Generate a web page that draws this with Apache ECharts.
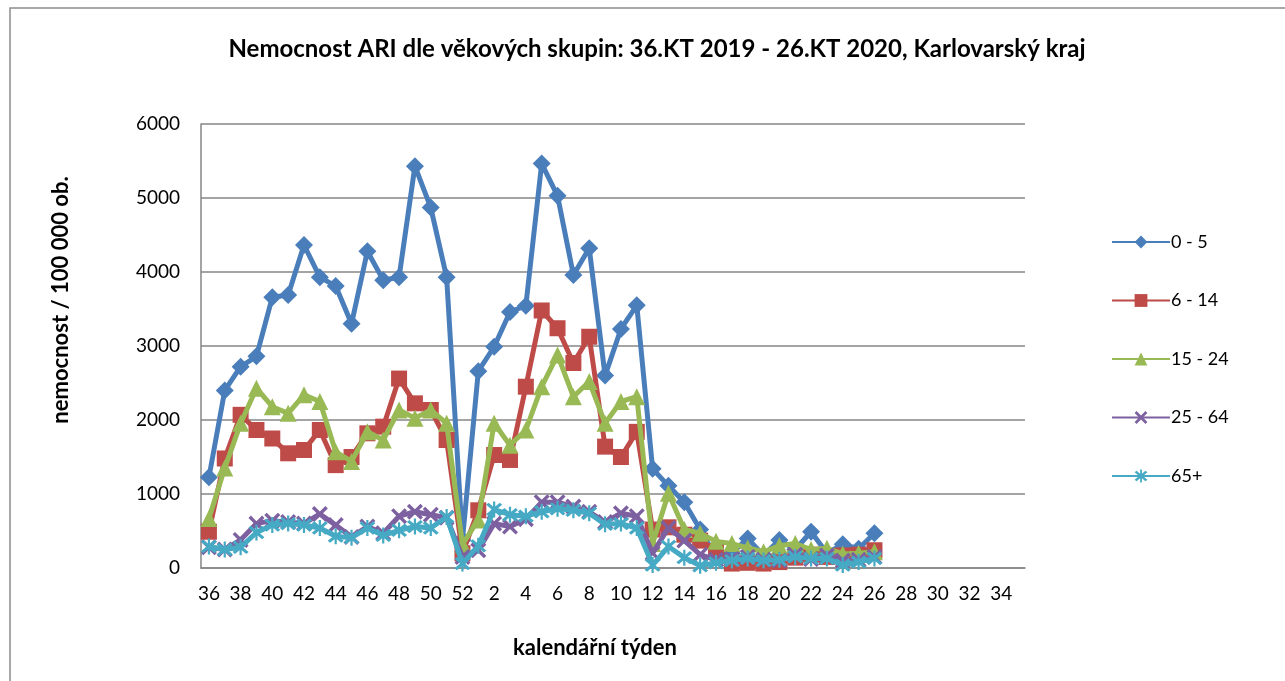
<!DOCTYPE html>
<html><head><meta charset="utf-8">
<script src="https://cdn.jsdelivr.net/npm/echarts@6/dist/echarts.min.js"></script>
<style>html,body{margin:0;padding:0;background:#fff}#c{width:1285px;height:681px}</style>
</head><body><div id="c"></div>
<script>
const weeks = [36,37,38,39,40,41,42,43,44,45,46,47,48,49,50,51,52,1,2,3,4,5,6,7,8,9,10,11,12,13,14,15,16,17,18,19,20,21,22,23,24,25,26,27,28,29,30,31,32,33,34,35];
const seriesNames = ['0 - 5','6 - 14','15 - 24','25 - 64','65+'];
const age0_5 = [1225,2400,2720,2860,3660,3690,4365,3930,3810,3300,4280,3890,3930,5430,4870,3930,380,
  2660,2990,3460,3545,5465,5030,3960,4320,2600,3230,3550,1340,1110,890,520,150,200,400,170,380,250,490,200,320,260,470];
const age6_14 = [490,1480,2070,1865,1750,1550,1595,1865,1390,1500,1820,1910,2560,2225,2135,1730,200,
  780,1527,1460,2450,3480,3240,2770,3125,1640,1500,1840,520,550,450,370,230,60,70,60,80,140,180,150,170,180,240];
const age15_24 = [670,1350,1955,2430,2180,2090,2340,2250,1570,1440,1840,1730,2135,2025,2135,1955,320,
  650,1955,1660,1865,2450,2880,2315,2520,1955,2250,2315,330,1010,520,470,360,330,270,220,300,330,250,266,190,200,220];
const age25_64 = [280,250,380,600,640,620,600,730,580,420,560,470,700,760,720,680,150,
  240,600,560,660,890,890,830,760,620,740,700,200,540,370,180,110,120,150,110,100,180,120,170,100,110,150];
const age65 = [290,250,280,480,580,600,580,540,430,410,540,440,510,560,540,690,60,
  300,790,720,700,760,800,780,740,590,600,540,40,290,140,30,70,100,130,100,110,150,130,130,40,80,130];
const yTicks = [0,1000,2000,3000,4000,5000,6000];

const colors = ['#4A7EBB','#BE4B48','#98B954','#7D60A0','#46AAC5'];
const xSym = 'path://M0,1.5 L1.5,0 L5,3.5 L8.5,0 L10,1.5 L6.5,5 L10,8.5 L8.5,10 L5,6.5 L1.5,10 L0,8.5 L3.5,5 Z';
const starSym = 'path://M0,1.5 L1.5,0 L5,3.5 L8.5,0 L10,1.5 L6.5,5 L10,8.5 L8.5,10 L5,6.5 L1.5,10 L0,8.5 L3.5,5 Z M4.3,-1 L5.7,-1 L5.7,11 L4.3,11 Z';
const symbols = ['diamond','rect','triangle',xSym,starSym];
const symSizes = [18,16,17,16,16];
const dataSets = [age0_5,age6_14,age15_24,age25_64,age65];

const font = 'Lato, "Open Sans", sans-serif';
const chart = echarts.init(document.getElementById('c'));
chart.setOption({
  animation:false,
  backgroundColor:'#fff',
  color: colors,
  title:{
    text:'Nemocnost ARI dle věkových skupin: 36.KT 2019 - 26.KT 2020, Karlovarský kraj',
    left: 652, top: 32, textAlign:'center',
    textStyle:{fontFamily:font,fontSize:24,fontWeight:'bold',color:'#000'}
  },
  graphic:[
    {type:'rect',shape:{x:10,y:8,width:1300,height:700},style:{fill:'none',stroke:'#8c8c8c',lineWidth:1.5},silent:true},
    {type:'text',x:61,y:300,rotation:Math.PI/2,style:{text:'nemocnost / 100 000 ob.',x:0,y:0,font:'bold 22px '+font,fill:'#000',textAlign:'center',textVerticalAlign:'middle'}},
    {type:'text',x:595,y:648,style:{text:'kalendářní týden',x:0,y:0,font:'bold 22px '+font,fill:'#000',textAlign:'center',textVerticalAlign:'middle'}}
  ],
  legend:{
    orient:'vertical', left:1106, top:228,
    itemWidth:58, itemHeight:16, itemGap:40.5,
    data: seriesNames,
    textStyle:{fontFamily:font,fontSize:18,color:'#000',padding:[0,0,0,-4]}
  },
  grid:{left:201,right:260,top:124,bottom:113},
  xAxis:{
    type:'category', data: weeks, boundaryGap:true,
    axisLine:{lineStyle:{color:'#868686',width:1.5}},
    axisTick:{show:false},
    axisLabel:{interval:1,fontFamily:font,fontSize:19,color:'#000',margin:16}
  },
  yAxis:{
    type:'value', min:0, max:6000, interval:1000,
    axisLine:{show:true,lineStyle:{color:'#868686',width:1.5}},
    axisTick:{show:false},
    splitLine:{lineStyle:{color:'#868686',width:1.5}},
    axisLabel:{fontFamily:font,fontSize:19,color:'#000',margin:21,
      formatter:v=>yTicks.includes(v)?String(v):''}
  },
  series: dataSets.map((d,i)=>({
    name: seriesNames[i], type:'line', data:d,
    symbol: symbols[i], symbolSize: symSizes[i], showAllSymbol:true,
    lineStyle:{width:5,color:colors[i]},
    itemStyle:{color:colors[i]},
    z: 2+i
  }))
});
</script></body></html>
